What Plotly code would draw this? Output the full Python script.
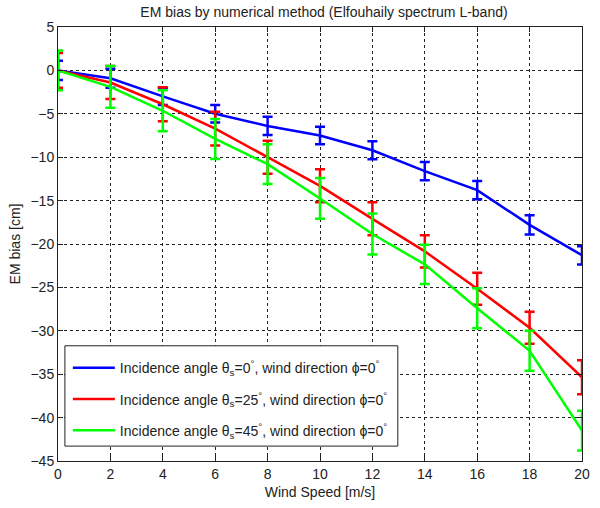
import plotly.graph_objects as go

wind = [0, 2, 4, 6, 8, 10, 12, 14, 16, 18, 20]

blue = [0, -0.9, -3.0, -5.0, -6.4, -7.5, -9.2, -11.6, -13.8, -17.8, -21.3]
blue_err = [1.1, 1.1, 1.0, 1.0, 1.05, 1.0, 1.05, 1.05, 1.05, 1.1, 1.05]

red = [0, -1.4, -3.9, -6.7, -10.0, -13.3, -17.1, -20.85, -25.15, -29.65, -35.35]
red_err = [2.0, 1.9, 1.95, 1.95, 1.9, 1.9, 1.9, 1.85, 1.85, 1.85, 1.95]

green = [0, -1.9, -4.65, -7.9, -10.8, -14.75, -18.85, -22.35, -27.4, -32.3, -41.5]
green_err = [2.3, 2.4, 2.35, 2.3, 2.3, 2.35, 2.35, 2.25, 2.3, 2.3, 2.3]

names = [
    "Incidence angle θ<sub>s</sub>=0<sup>°</sup>, wind direction ϕ=0<sup>°</sup>",
    "Incidence angle θ<sub>s</sub>=25<sup>°</sup>, wind direction ϕ=0<sup>°</sup>",
    "Incidence angle θ<sub>s</sub>=45<sup>°</sup>, wind direction ϕ=0<sup>°</sup>",
]
colors = ["#0000ff", "#ff0000", "#00ff00"]

fig = go.Figure()
for i, (ys, es, nm, c) in enumerate(zip([blue, red, green], [blue_err, red_err, green_err], names, colors)):
    fig.add_trace(go.Scatter(
        x=wind, y=ys, mode="lines", name=nm, legendgroup=f"g{i}",
        line=dict(color=c, width=2.5),
        error_y=dict(type="data", array=es, visible=True, color=c, thickness=2.5, width=5),
        cliponaxis=True,
    ))

font = "Liberation Sans, Arial, sans-serif"
txt = "#222"
L, R, T, B = 58, 10, 27, 44
W, H = 600, 508
pw, ph = W - L - R, H - T - B


def px_x(p):
    return (p - L) / pw


def px_y(p):
    return (H - B - p) / ph


fig.update_layout(
    width=W, height=H,
    margin=dict(l=L, r=R, t=T, b=B),
    paper_bgcolor="white", plot_bgcolor="white",
    font=dict(family=font, color=txt, size=14),
    title=dict(text="EM bias by numerical method (Elfouhaily spectrum L-band)",
               x=(L + W - R) / 2 / W, xanchor="center", y=1 - 12 / H, yanchor="middle",
               font=dict(size=14, family=font, color=txt)),
    showlegend=True,
    legend=dict(
        x=px_x(68), y=px_y(354.5), xanchor="left", yanchor="top",
        bgcolor="rgba(0,0,0,0)", borderwidth=0,
        font=dict(size=14, family=font, color=txt),
        itemwidth=42, tracegroupgap=10, traceorder="grouped",
    ),
    shapes=[dict(
        type="rect", xref="paper", yref="paper",
        x0=px_x(65), x1=px_x(403), y0=px_y(449), y1=px_y(348),
        fillcolor="white", line=dict(color=txt, width=1), layer="above",
    )],
)
fig.update_xaxes(
    range=[0, 20], tickvals=list(range(0, 21, 2)),
    showline=True, linecolor=txt, linewidth=1, mirror="ticks",
    ticks="inside", ticklen=5, tickcolor=txt,
    showgrid=True, gridcolor=txt, griddash="dot", gridwidth=1,
    zeroline=False,
    tickfont=dict(size=14),
    title=dict(text="Wind Speed [m/s]", font=dict(size=14), standoff=6),
)
fig.update_yaxes(
    range=[-45, 5], tickvals=list(range(-45, 6, 5)),
    showline=True, linecolor=txt, linewidth=1, mirror="ticks",
    ticks="inside", ticklen=5, tickcolor=txt,
    showgrid=True, gridcolor=txt, griddash="dot", gridwidth=1,
    zeroline=False,
    tickfont=dict(size=14),
    title=dict(text="EM bias [cm]", font=dict(size=14), standoff=6),
)
fig.write_html("out.html")
